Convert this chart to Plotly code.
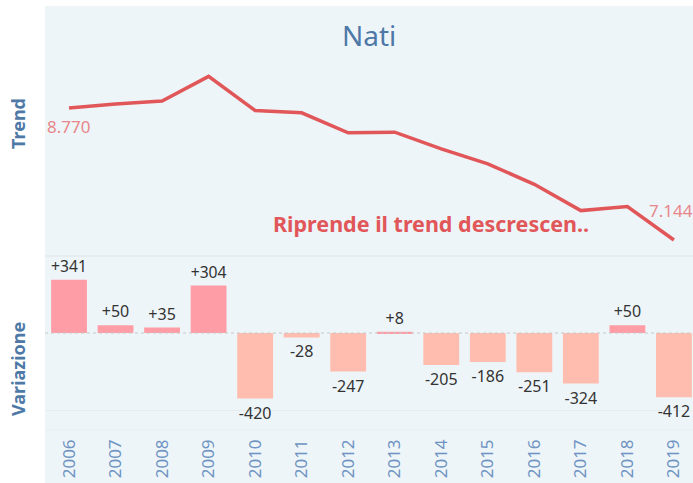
import plotly.graph_objects as go

# dati
anni = [2006, 2007, 2008, 2009, 2010, 2011, 2012, 2013, 2014, 2015, 2016, 2017, 2018, 2019]
nati = [8770, 8820, 8855, 9159, 8739, 8711, 8464, 8472, 8267, 8081, 7830, 7506, 7556, 7144]
variazione = [341, 50, 35, 304, -420, -28, -247, 8, -205, -186, -251, -324, 50, -412]

FONT = "Noto Sans, sans-serif"
BLU = "#4E79A7"
ROSSO = "#E15759"
BG = "#EEF5F9"

fig = go.Figure()

# trend
fig.add_trace(go.Scatter(
    x=anni, y=nati, mode="lines",
    line=dict(color=ROSSO, width=3.5),
    xaxis="x", yaxis="y2", hoverinfo="skip",
))

# variazione
colori = ["#FF9DA6" if v > 0 else "#FFBDB0" for v in variazione]
etichette = [f"+{v}" if v > 0 else str(v) for v in variazione]
fig.add_trace(go.Bar(
    x=anni, y=variazione,
    marker=dict(color=colori, line_width=0),
    width=0.77,
    text=etichette, textposition="outside",
    textfont=dict(size=16, color="#333333", family=FONT),
    cliponaxis=False,
    xaxis="x", yaxis="y", hoverinfo="skip",
))

H = 424
low = 174 / H


def py(pixel):
    # pixel dall'alto -> coordinata paper
    return 1 - (pixel - 6) / H


fig.add_shape(type="rect", xref="paper", yref="paper", x0=0, x1=1,
              y0=-53 / H, y1=1, fillcolor=BG, line_width=0, layer="below")
fig.add_shape(type="line", xref="paper", yref="paper", x0=0, x1=1,
              y0=low, y1=low, line=dict(color="#E3EAEE", width=1.5))
fig.add_shape(type="line", xref="paper", yref="paper", x0=0, x1=1,
              y0=0, y1=0, line=dict(color="#E8EEF1", width=1))
fig.add_shape(type="line", xref="paper", yref="y", x0=0, x1=1,
              y0=0, y1=0, line=dict(color="#C8C8C8", width=1, dash="dot"))

# etichette del trend
fig.add_annotation(x=anni[0], y=nati[0], yref="y2", text=f"{nati[0]:,}".replace(",", "."),
                   showarrow=False, yshift=-19, xshift=-1,
                   font=dict(size=17, color="#E8878A", family=FONT))
fig.add_annotation(x=anni[-1], y=nati[-1], yref="y2", text=f"{nati[-1]:,}".replace(",", "."),
                   showarrow=False, yshift=30, xshift=-3,
                   font=dict(size=17, color="#E8878A", family=FONT))
fig.add_annotation(x=2013.78, y=7350, yref="y2", text="<b>Riprende il trend descrescen..</b>",
                   showarrow=False, font=dict(size=21.5, color=ROSSO, family=FONT))

fig.add_annotation(x=0.5, y=py(35), xref="paper", yref="paper", yanchor="middle", text="Nati",
                   showarrow=False, font=dict(size=28, color=BLU, family=FONT))
fig.add_annotation(x=-27 / 648, y=py(124), xref="paper", yref="paper",
                   xanchor="center", yanchor="middle",
                   text="<b>Trend</b>", textangle=-90, showarrow=False,
                   font=dict(size=18, color=BLU, family=FONT))
fig.add_annotation(x=-27 / 648, y=py(369), xref="paper", yref="paper",
                   xanchor="center", yanchor="middle",
                   text="<b>Variazione</b>", textangle=-90, showarrow=False,
                   font=dict(size=18, color=BLU, family=FONT))

fig.update_layout(
    width=693, height=483,
    margin=dict(l=45, r=0, t=6, b=53),
    paper_bgcolor="white",
    plot_bgcolor=BG,
    showlegend=False,
    font_family=FONT,
    xaxis=dict(
        range=[2005.484, 2019.41], tickvals=anni, ticktext=[str(a) for a in anni],
        tickangle=-90, tickfont=dict(size=17, color="#6F94C2"), ticklabelstandoff=5,
        showgrid=False, zeroline=False, showline=False, ticks="",
    ),
    yaxis=dict(
        domain=[0, low], range=[-622, 494],
        tickvals=[-500], showticklabels=False, showgrid=True,
        gridcolor="#E6ECEF", zeroline=False,
    ),
    yaxis2=dict(
        domain=[low, 1], range=[6947, 10026],
        showticklabels=False, showgrid=False, zeroline=False,
    ),
)

fig.write_html("out.html", config={"displayModeBar": False},
               post_script="document.body.style.margin='0';")
